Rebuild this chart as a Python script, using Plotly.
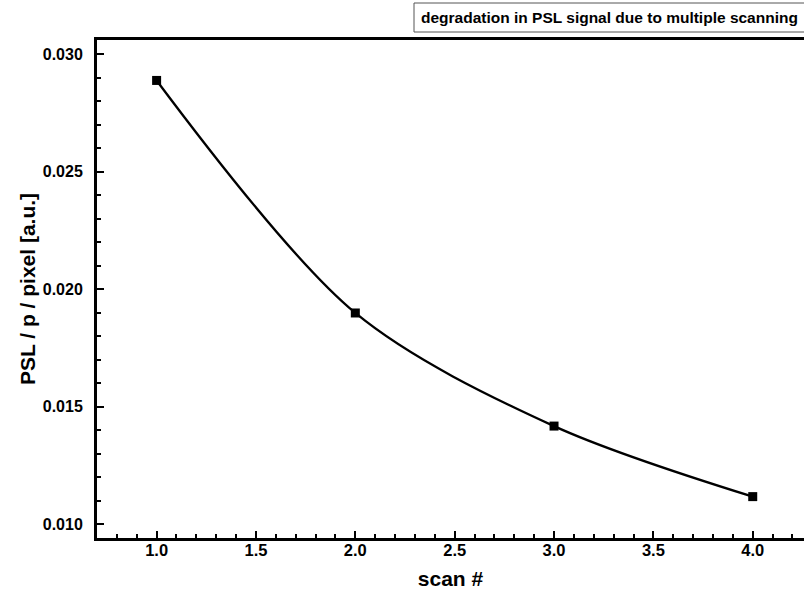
import plotly.graph_objects as go

scan = [1.0, 2.0, 3.0, 4.0]
psl = [0.02888, 0.01899, 0.01418, 0.01118]
x_ticks = [1.0, 1.5, 2.0, 2.5, 3.0, 3.5, 4.0]
y_ticks = [0.010, 0.015, 0.020, 0.025, 0.030]
title_text = "degradation in PSL signal due to multiple scanning"

fig = go.Figure()
fig.add_trace(go.Scatter(
    x=scan, y=psl, mode="lines+markers",
    line=dict(color="black", width=2.3, shape="spline", smoothing=0.9),
    marker=dict(symbol="square", size=9, color="black"),
    showlegend=False,
))

W, H = 804, 591
ml, mt, mb, mr = 97, 40, 53, 0

fig.update_layout(
    width=W, height=H,
    margin=dict(l=ml, r=mr, t=mt, b=mb),
    paper_bgcolor="white", plot_bgcolor="white",
    font=dict(family="Liberation Sans, Arial, sans-serif", color="black"),
)
fig.update_xaxes(
    range=[0.7, 4.258],
    tickvals=x_ticks, ticktext=[f"{v:.1f}" for v in x_ticks],
    ticks="inside", ticklen=7, tickwidth=1.5, tickcolor="black",
    minor=dict(dtick=0.1, tick0=0.0, ticks="inside", ticklen=4, tickwidth=1.5, tickcolor="black"),
    showline=True, linecolor="black", linewidth=3, mirror=True,
    showgrid=False, zeroline=False,
    tickfont=dict(size=16.5, family="Liberation Sans, Arial", weight="bold"),
    ticklabelstandoff=-5,
    title=dict(text="<b>scan #</b>", font=dict(size=21), standoff=14),
)
fig.update_yaxes(
    range=[0.00942, 0.0306],
    tickvals=y_ticks, ticktext=[f"{v:.3f}" for v in y_ticks],
    ticks="inside", ticklen=7, tickwidth=1.5, tickcolor="black",
    minor=dict(dtick=0.001, tick0=0.0, ticks="inside", ticklen=4, tickwidth=1.5, tickcolor="black"),
    showline=True, linecolor="black", linewidth=3, mirror=False,
    showgrid=False, zeroline=False,
    tickfont=dict(size=16, family="Liberation Sans, Arial", weight="bold"),
    ticklabelstandoff=8,
    title=dict(text="<b>PSL / p / pixel [a.u.]</b>", font=dict(size=21), standoff=2),
)

# title box (extends beyond right edge)
fig.add_shape(type="rect", xref="paper", yref="paper",
              x0=(414 - ml) / (W - ml - mr), x1=1.02,
              y0=(H - mb - 32) / (H - mt - mb), y1=(H - mb - 3) / (H - mt - mb),
              line=dict(color="#555555", width=1), fillcolor="white")
fig.add_annotation(text=f"<b>{title_text}</b>", xref="paper", yref="paper",
                   x=(419 - ml) / (W - ml - mr), y=(H - mb - 17.5) / (H - mt - mb),
                   xanchor="left", yanchor="middle", showarrow=False,
                   font=dict(size=15.5, color="black"))

fig.write_html("out.html", config={"displayModeBar": False},
               post_script="document.body.style.margin='0';document.body.style.overflow='hidden';")
